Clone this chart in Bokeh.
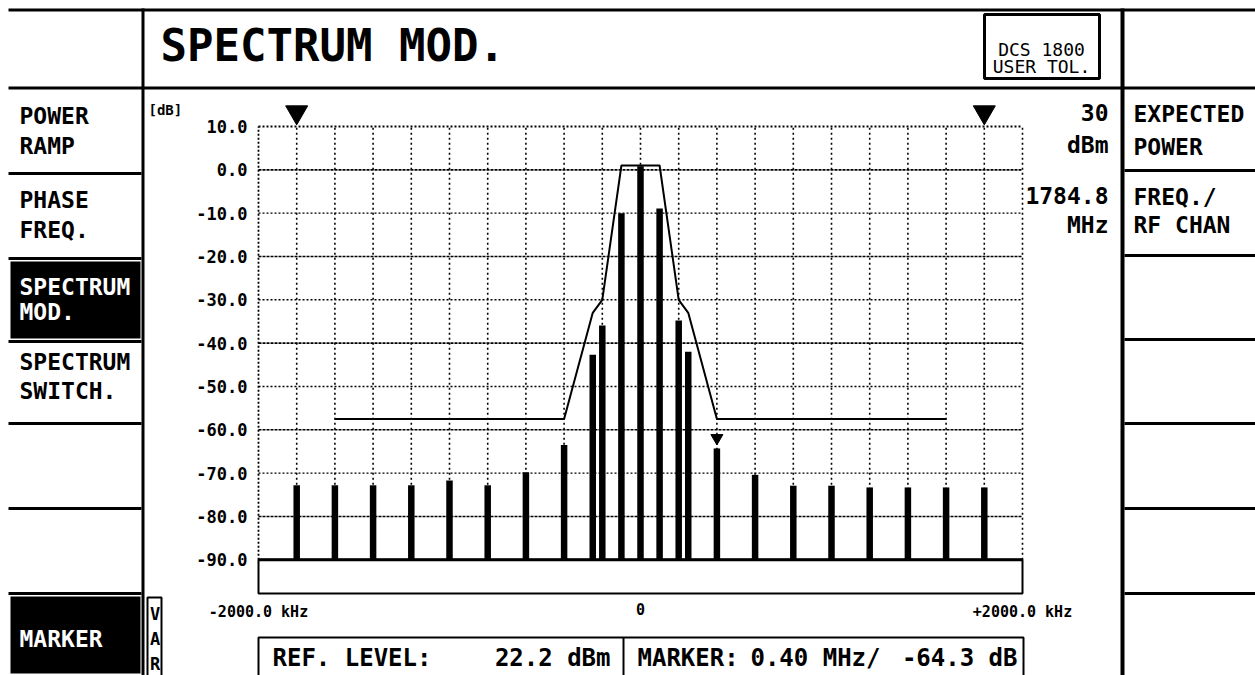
from bokeh.plotting import figure
from bokeh.models import Range1d
from bokeh.core.properties import value
from bokeh.embed import file_html
from bokeh.resources import INLINE

# ---------------- data ----------------
offsets_khz = [-1800, -1600, -1400, -1200, -1000, -800, -600, -400, -250, -200, -100, 0,
               100, 200, 250, 400, 600, 800, 1000, 1200, 1400, 1600, 1800]
levels_db = [-72.8, -72.8, -72.8, -72.8, -71.7, -72.8, -69.8, -63.5, -42.7, -35.9, -10.0, 0.8,
             -8.9, -34.8, -42.0, -64.3, -70.4, -72.9, -72.9, -73.3, -73.3, -73.3, -73.3]
mask_khz = [-1600, -400, -250, -200, -100, 100, 200, 250, 400, 1600]
mask_db = [-57.5, -57.5, -33.0, -30.0, 1.0, 1.0, -30.0, -33.0, -57.5, -57.5]
limit_khz = [-1800, 1800]
marker_khz = 400
y_ticks = [10, 0, -10, -20, -30, -40, -50, -60, -70, -80, -90]
x_ticks = [-2000, 0, 2000]
x_tick_labels = ["-2000.0 kHz", "0", "+2000.0 kHz"]
grid_khz = [-1800, -1600, -1400, -1200, -1000, -800, -600, -400, -200, 0,
            200, 400, 600, 800, 1000, 1200, 1400, 1600, 1800]
grid_major_db = [0, -20, -40, -60, -80]
grid_minor_db = [-10, -30, -50, -70]
left_keys = [["POWER", "RAMP"], ["PHASE", "FREQ."], ["SPECTRUM", "MOD."],
             ["SPECTRUM", "SWITCH."], [], [], ["MARKER"]]
right_keys = [["EXPECTED", "POWER"], ["FREQ./", "RF CHAN"], [], [], [], [], []]
active_left = [2, 6]
expected_power = ["30", "dBm"]
rf_frequency = ["1784.8", "MHz"]
ref_level_dbm = 22.2
title_text = "SPECTRUM MOD."
standard_text = ["DCS 1800", "USER TOL."]
unit_text = "[dB]"
var_text = "VAR"

FONT = "DejaVu Sans Mono"

W, H = 1255, 675
# screen geometry of the measurement window (pixels)
PL, PR = 258.0, 1022.0      # -2000 kHz / +2000 kHz
PT, PF = 126.0, 559.3       # +10 dB / -90 dB
X0, X1 = -2000, 2000
Y_TOP, Y_FLOOR = 10, -90
kpp = (X1 - X0) / (PR - PL)
ppd = (PF - PT) / (Y_TOP - Y_FLOOR)
Y_BOX = Y_FLOOR - (593 - PF) / ppd

p = figure(width=W, height=H, x_range=Range1d(0, W), y_range=Range1d(H, 0),
           min_border=0, toolbar_location=None, output_backend="svg")
p.extra_x_ranges = {"khz": Range1d(X0 - PL * kpp, X0 + (W - PL) * kpp)}
p.extra_y_ranges = {"db": Range1d(Y_FLOOR - (H - PF) / ppd, Y_TOP + PT / ppd)}
p.axis.visible = False
p.grid.visible = False
p.outline_line_color = None
p.background_fill_color = "white"
p.border_fill_color = "white"
D = dict(x_range_name="khz", y_range_name="db")

# ---------------- measurement window ----------------
n = len(grid_khz)
p.segment(x0=grid_khz, y0=[Y_FLOOR] * n, x1=grid_khz, y1=[Y_TOP] * n,
          line_color="black", line_width=1.6, line_dash="2 3", **D)
m = len(grid_major_db)
p.segment(x0=[X0] * m, y0=grid_major_db, x1=[X1] * m, y1=grid_major_db,
          line_color="black", line_width=1.6, line_dash="3 1", **D)
k = len(grid_minor_db)
p.segment(x0=[X0] * k, y0=grid_minor_db, x1=[X1] * k, y1=grid_minor_db,
          line_color="black", line_width=1.4, line_dash="2 2", **D)
p.segment(x0=[X0, X0], y0=[Y_FLOOR, Y_TOP], x1=[X0, X1], y1=[Y_TOP, Y_TOP],
          line_color="black", line_width=1.8, line_dash="2 2", **D)
p.segment(x0=[X1], y0=[Y_FLOOR], x1=[X1], y1=[Y_TOP],
          line_color="black", line_width=1.6, line_dash="2 3", **D)

p.quad(left=[X0], right=[X1], top=[Y_FLOOR], bottom=[Y_BOX],
       fill_color="white", line_color="black", line_width=2, **D)

p.vbar(x=offsets_khz, width=34, top=levels_db, bottom=Y_FLOOR,
       fill_color="black", line_color=None, **D)
p.segment(x0=[X0], y0=[Y_FLOOR], x1=[X1], y1=[Y_FLOOR], line_color="black", line_width=3, **D)

p.line(mask_khz, mask_db, line_color="black", line_width=2, **D)

p.scatter(x=limit_khz, y=[Y_TOP + 3.3] * len(limit_khz), marker="inverted_triangle",
          size=22, fill_color="black", line_color="black", **D)
mi = offsets_khz.index(marker_khz)
p.scatter(x=[marker_khz], y=[levels_db[mi] + 2.4], marker="inverted_triangle",
          size=12, fill_color="black", line_color="black", **D)

# tick labels through the data scales
p.text(x=[X0] * len(y_ticks), y=y_ticks, text=[f"{t:.1f}" for t in y_ticks],
       x_offset=-11, text_align="right", text_baseline="middle",
       text_font=value(FONT), text_font_size="17px", text_font_style="bold",
       text_color="black", **D)
p.text(x=x_ticks, y=[Y_BOX] * len(x_ticks), text=x_tick_labels,
       y_offset=9, text_align="center", text_baseline="top",
       text_font=value(FONT), text_font_size="15px", text_font_style="bold",
       text_color="black", **D)


# ---------------- screen furniture (pixel coordinates) ----------------
def rects(items, fill="black", line=None, lw=0):
    p.quad(left=[r[0] for r in items], right=[r[1] for r in items],
           top=[r[2] for r in items], bottom=[r[3] for r in items],
           fill_color=fill, line_color=line, line_width=lw)


def texts(xs, ys, strs, size, color="black", style="bold", align="left"):
    p.text(x=xs, y=ys, text=strs, text_font=value(FONT), text_font_size=f"{size}px",
           text_font_style=style, text_color=color, text_align=align,
           text_baseline="middle")


row_tops = [89, 173, 258, 341, 423, 508, 593]
left_seps = [173, 258, 341, 423, 508, 593]
right_seps = [170, 255, 339, 423, 508, 593]
lines = [(8, W, 8, 11), (8, W, 86, 89), (141, 144, 8, H), (1120, 1124, 8, H)]
lines += [(8, 141, y - 1.5, y + 1.5) for y in left_seps]
lines += [(1124, W, y - 1.5, y + 1.5) for y in right_seps]
lines += [(10, 140, row_tops[i] + 3, row_tops[i] + 80) for i in active_left]
rects(lines)

left_mid = [115, 199.5, 286, 361.5, 0, 0, 638.5]
left_pitch = [30, 30, 25.5, 28.5, 0, 0, 0]
lx, ly, lt, lc = [], [], [], []
for i, keys in enumerate(left_keys):
    for j, t in enumerate(keys):
        lx.append(19)
        ly.append(left_mid[i] + left_pitch[i] * j)
        lt.append(t)
        lc.append("white" if i in active_left else "black")
p.text(x=lx, y=ly, text=lt, text_color=lc, text_font=value(FONT), text_font_size="23px",
       text_font_style="bold", text_baseline="middle")

right_mid = [113.5, 196, 0, 0, 0, 0, 0]
right_pitch = [32.5, 28, 0, 0, 0, 0, 0]
rx, ry, rt = [], [], []
for i, keys in enumerate(right_keys):
    for j, t in enumerate(keys):
        rx.append(1133)
        ry.append(right_mid[i] + right_pitch[i] * j)
        rt.append(t)
texts(rx, ry, rt, 23)

# VAR tab
rects([(147, 161, 597, 700)], fill="white", line="black", lw=2)
texts([154.5] * len(var_text), [613.5, 638.5, 663.5], list(var_text), 17, align="center")

# title and standard box
texts([160], [45], [title_text], 44)
rects([(984, 1099, 14, 78)], fill="white", line="black", lw=3)
texts([1041, 1041], [48.5, 65.5], standard_text, 18, style="normal", align="center")

# right-hand readouts
texts([1108] * 4, [111.5, 144.5, 194.5, 224], expected_power + rf_frequency, 23, align="right")

texts([148], [109], [unit_text], 14)

# bottom readout box
rects([(258, 1023, 637, 700)], fill="white", line="black", lw=2)
rects([(622, 624, 637, 700)])
texts([272, 637], [657.5, 657.5], ["REF. LEVEL:", "MARKER:"], 24)
texts([610, 880, 1017], [657.5, 657.5, 657.5],
      [f"{ref_level_dbm:.1f} dBm", f"{marker_khz / 1000:.2f} MHz/", f"{levels_db[mi]:.1f} dB"],
      24, align="right")

open("out.html", "w").write(file_html(p, INLINE))
